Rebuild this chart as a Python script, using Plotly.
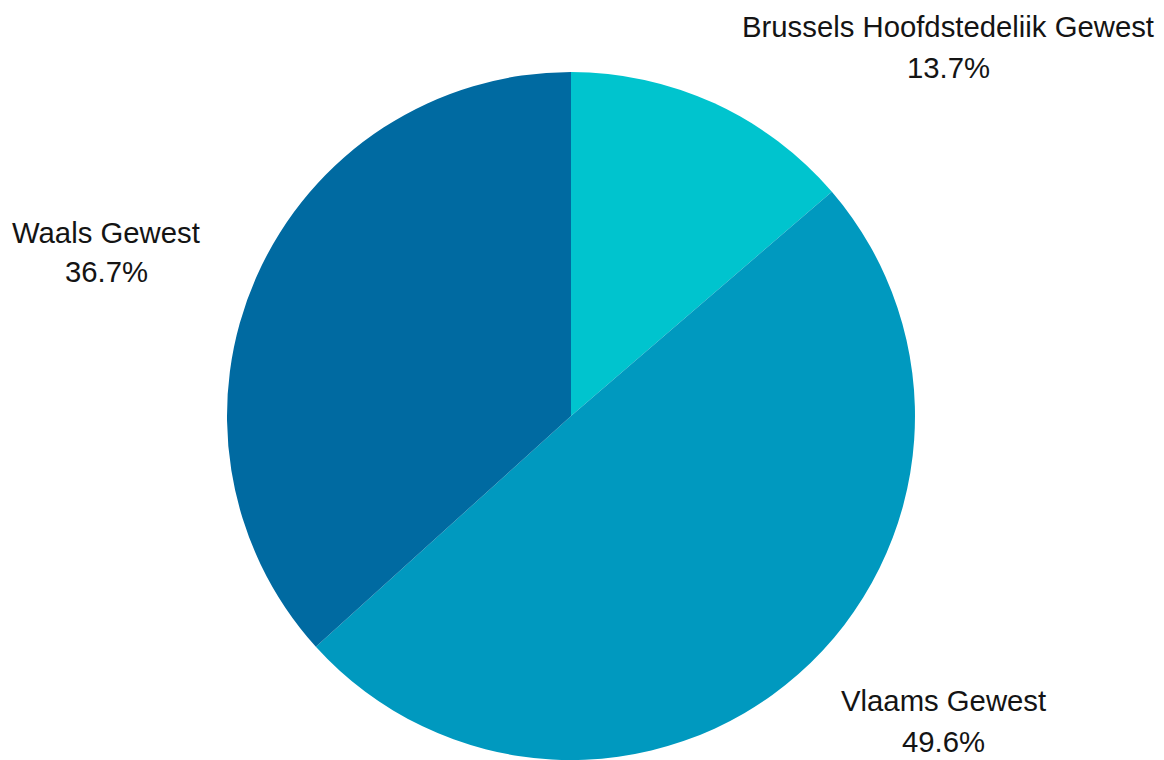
import plotly.graph_objects as go

regions = ["Brussels Hoofdstedeliik Gewest", "Vlaams Gewest", "Waals Gewest"]
shares = [13.7, 49.6, 36.7]
colors = ["#00C4CE", "#0099BF", "#006AA1"]

# label anchor points (pixel x, pixel y of name line, pixel y of value line)
label_pos = [(948, 27, 67), (943, 700, 741), (106, 232, 271)]

W, H = 1164, 760

fig = go.Figure(
    go.Pie(
        labels=regions,
        values=shares,
        sort=False,
        direction="clockwise",
        rotation=0,
        marker=dict(colors=colors, line=dict(width=0)),
        textinfo="none",
        hoverinfo="label+percent",
        domain=dict(x=[0, 1142 / W], y=[0, 688 / H]),
        showlegend=False,
    )
)

font = dict(family="Liberation Sans, Arial, sans-serif", size=29.3, color="#141414")
for name, val, (px, py1, py2) in zip(regions, shares, label_pos):
    fig.add_annotation(x=px / W, y=1 - py1 / H, xref="paper", yref="paper",
                       text=name, showarrow=False, font=font,
                       xanchor="center", yanchor="middle")
    fig.add_annotation(x=px / W, y=1 - py2 / H, xref="paper", yref="paper",
                       text=f"{val:.1f}%", showarrow=False, font=font,
                       xanchor="center", yanchor="middle")

fig.update_layout(
    width=W,
    height=H,
    margin=dict(l=0, r=0, t=0, b=0),
    paper_bgcolor="white",
    plot_bgcolor="white",
)

fig.write_html("out.html")
